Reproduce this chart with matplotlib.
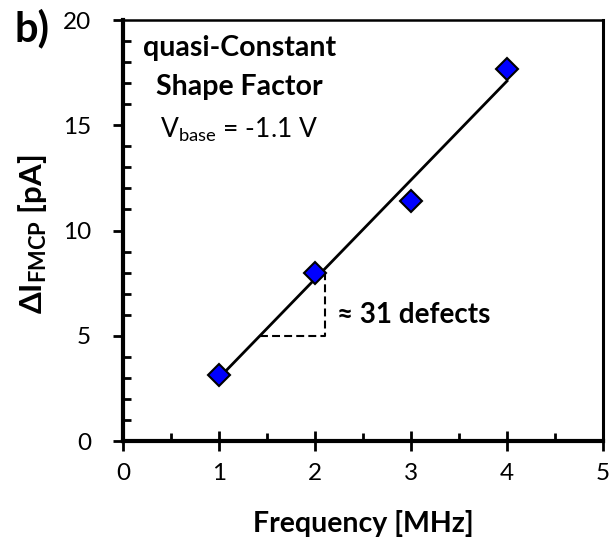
import numpy as np
import matplotlib
matplotlib.use("Agg")
import matplotlib.pyplot as plt
from matplotlib.ticker import MultipleLocator

plt.rcParams['font.family'] = ['Lato', 'DejaVu Sans']
plt.rcParams['mathtext.fontset'] = 'custom'
plt.rcParams['mathtext.rm'] = 'Lato'
plt.rcParams['mathtext.bf'] = 'Lato:bold'

# data
freq_mhz = [1, 2, 3, 4]
delta_i_pa = [3.13, 8.0, 11.4, 17.67]

# linear fit through the points
slope, intercept = np.polyfit(freq_mhz, delta_i_pa, 1)
fit_x = np.array([min(freq_mhz), max(freq_mhz)])
fit_y = slope * fit_x + intercept

# slope triangle
tri_y = 5.0
tri_x_right = 2.1
tri_x_left = (tri_y - intercept) / slope
tri_y_top = slope * tri_x_right + intercept

fig = plt.figure(figsize=(6.15, 5.42), dpi=100)
ax = fig.add_axes([0.2, 0.1863, 0.7805, 0.7767])

ax.plot(fit_x, fit_y, color='black', lw=2, zorder=2)
ax.plot(freq_mhz, delta_i_pa, 'D', ms=11, mfc='#0000FF', mec='black', mew=1.5, zorder=3)
ax.plot([tri_x_left, tri_x_right, tri_x_right], [tri_y, tri_y, tri_y_top],
        color='black', lw=1.5, ls=(0, (3.8, 2)), zorder=1)

ax.text(2.23, 5.6, '≈ 31 defects', fontsize=20, fontweight='bold', va='baseline', ha='left')
ax.text(1.21, 18.3, 'quasi-Constant', fontsize=20.5, fontweight='bold', ha='center', va='baseline')
ax.text(1.21, 16.44, 'Shape Factor', fontsize=20.5, fontweight='bold', ha='center', va='baseline')
ax.text(1.21, 14.44, r'V$_{\mathrm{base}}$ = -1.1 V', fontsize=19, ha='center', va='baseline')

ax.set_xlim(0, 5)
ax.set_ylim(0, 20)
ax.xaxis.set_major_locator(MultipleLocator(1))
ax.xaxis.set_minor_locator(MultipleLocator(0.5))
ax.yaxis.set_major_locator(MultipleLocator(5))
ax.yaxis.set_minor_locator(MultipleLocator(1))

ax.tick_params(axis='x', which='major', direction='inout', length=14, width=2, labelsize=17.5, pad=9)
ax.tick_params(axis='x', which='minor', direction='in', length=6, width=2)
ax.tick_params(axis='y', which='major', direction='out', length=7, width=2, labelsize=17.5, pad=16)
ax.tick_params(axis='y', which='minor', direction='in', length=6, width=2)

for side in ['left', 'bottom']:
    ax.spines[side].set_linewidth(3)
ax.spines['top'].set_linewidth(1.8)
ax.spines['right'].set_linewidth(2.2)

ax.set_xlabel('Frequency [MHz]', fontsize=20.5, fontweight='bold')
ax.xaxis.label.set_va('baseline')
ax.xaxis.set_label_coords(0.5, -0.216)
ax.set_ylabel(r'$\mathbf{\Delta I_{FMCP}}$ [pA]', fontsize=22.5, fontweight='bold')
ax.yaxis.set_label_coords(-0.155, 0.492)

fig.text(0.024, 0.985, 'b)', fontsize=30, fontweight='bold', ha='left', va='top')

fig.savefig('out.png', dpi=100)
